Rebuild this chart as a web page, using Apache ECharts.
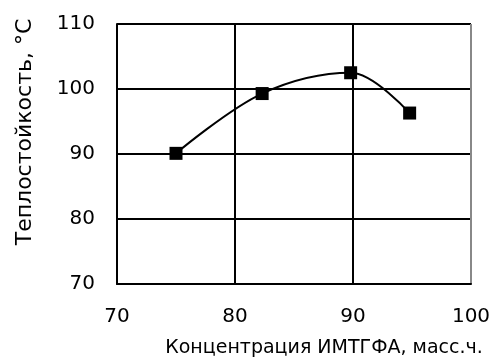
<!DOCTYPE html>
<html><head><meta charset="utf-8">
<script src="https://cdn.jsdelivr.net/npm/echarts@6/dist/echarts.min.js"></script>
<style>html,body{margin:0;padding:0;background:#fff}#c{width:495px;height:363px}</style>
</head><body><div id="c"></div>
<script>
const xValues = [75, 82.3, 89.8, 94.8];
const yValues = [90.1, 99.3, 102.5, 96.3];
const xName = 'Концентрация ИМТГФА, масс.ч.';
const yName = 'Теплостойкость, °С';
const font = 'DejaVu Sans';
const chart = echarts.init(document.getElementById('c'));
chart.setOption({
  animation: false,
  grid: {left: 117, right: 24, top: 24, bottom: 77},
  xAxis: {
    type: 'value', min: 70, max: 100, interval: 10,
    name: xName, nameLocation: 'middle', nameGap: 55,
    nameTextStyle: {fontFamily: font, fontSize: 19, color: '#000', padding: [0, 0, 0, 60]},
    axisLine: {show: true, lineStyle: {color: '#000', width: 2}},
    axisTick: {show: false},
    axisLabel: {fontFamily: font, fontSize: 20, color: '#000', margin: 23},
    splitLine: {show: true, lineStyle: {color: ['#000', '#000', '#000', '#888'], width: 2}}
  },
  yAxis: {
    type: 'value', min: 70, max: 110, interval: 10,
    name: yName, nameLocation: 'middle', nameGap: 81,
    nameTextStyle: {fontFamily: font, fontSize: 22, color: '#000', padding: [0, 0, 0, 44]},
    axisLine: {show: true, lineStyle: {color: '#000', width: 2}},
    axisTick: {show: false},
    axisLabel: {fontFamily: font, fontSize: 20, color: '#000', margin: 22},
    splitLine: {show: true, lineStyle: {color: '#000', width: 2}}
  },
  series: [{
    type: 'line', data: xValues.map((x, i) => [x, yValues[i]]),
    smooth: 0.35, symbol: 'rect', symbolSize: 13,
    lineStyle: {color: '#000', width: 2},
    itemStyle: {color: '#000'}
  }]
});
</script></body></html>
